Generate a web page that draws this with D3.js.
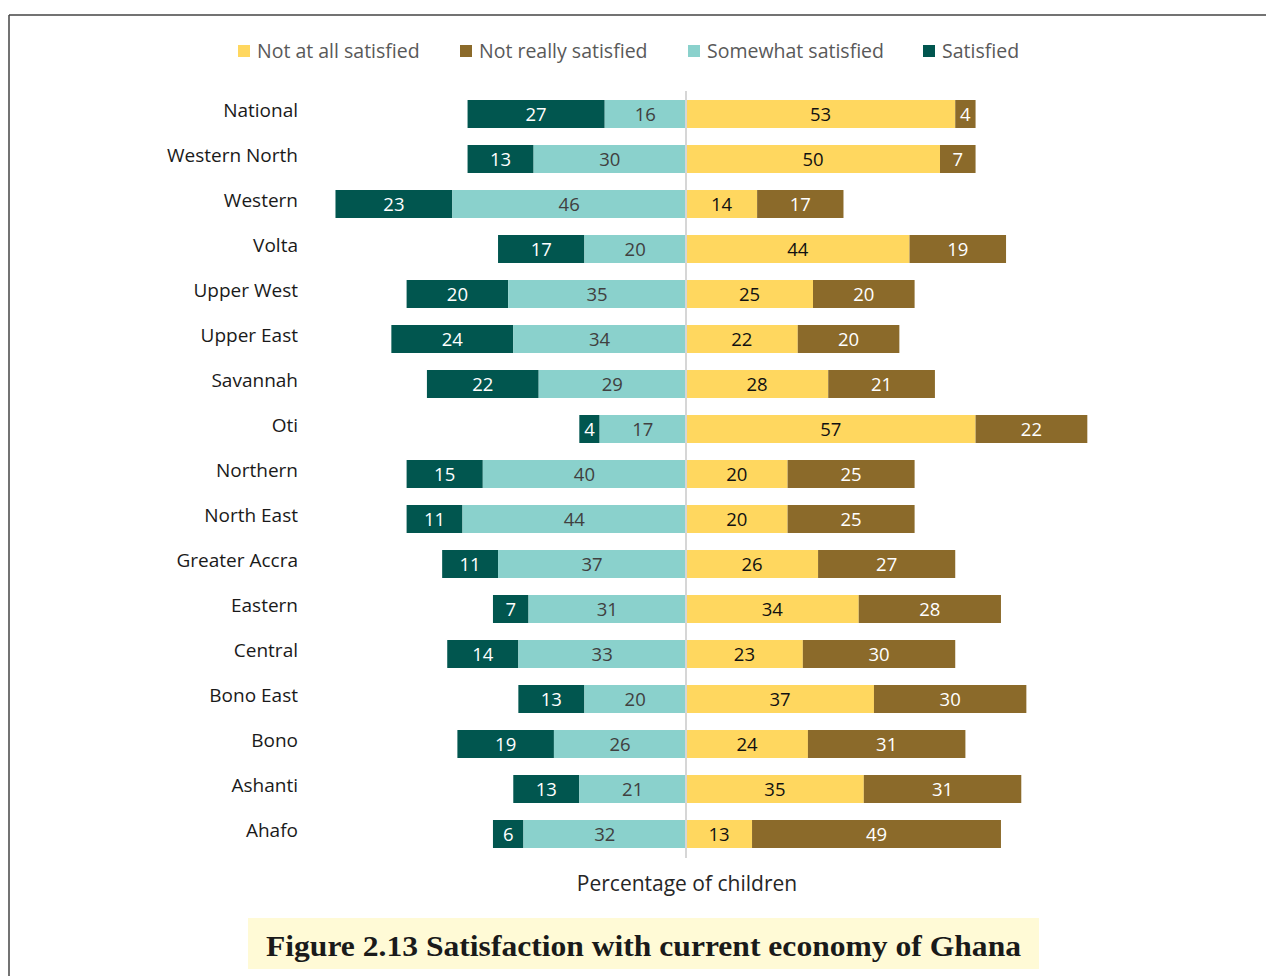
<!DOCTYPE html>
<html><head><meta charset="utf-8">
<script src="https://cdn.jsdelivr.net/npm/d3@7"></script>
<style>body{margin:0;background:#fff}svg{display:block}</style>
</head><body>
<svg id="c" width="1266" height="976"></svg>
<script>
const categories = ["National","Western North","Western","Volta","Upper West","Upper East","Savannah","Oti","Northern","North East","Greater Accra","Eastern","Central","Bono East","Bono","Ashanti","Ahafo"];
const satisfied      = [27,13,23,17,20,24,22,4,15,11,11,7,14,13,19,13,6];
const somewhat       = [16,30,46,20,35,34,29,17,40,44,37,31,33,20,26,21,32];
const notAtAll       = [53,50,14,44,25,22,28,57,20,20,26,34,23,37,24,35,13];
const notReally      = [4,7,17,19,20,20,21,22,25,25,27,28,30,30,31,31,49];
const legendLabels = ["Not at all satisfied","Not really satisfied","Somewhat satisfied","Satisfied"];

const colors = {sat:"#01564f", some:"#8ad1cc", naa:"#ffd75f", nr:"#8b6a2a"};
const textCol = {sat:"#ffffff", some:"#404040", naa:"#111111", nr:"#ffffff"};
const font = "'Open Sans', sans-serif";

const svg = d3.select("#c");
// frame
svg.append("line").attr("x1",9).attr("x2",1266).attr("y1",15).attr("y2",15).attr("stroke","#444").attr("stroke-width",1.5);
svg.append("line").attr("x1",9).attr("x2",9).attr("y1",15).attr("y2",976).attr("stroke","#444").attr("stroke-width",1.5);

const x = d3.scaleLinear().domain([-69, 79]).range([686 - 69*5.08, 686 + 79*5.08]);
const y = d3.scaleBand().domain(categories).range([91.5, 856.5]).paddingInner(0.378).paddingOuter(0.189);

const rows = categories.map((c,i)=>({c, segs:[
  {k:"sat", x0:-(satisfied[i]+somewhat[i]), x1:-somewhat[i], v:satisfied[i]},
  {k:"some", x0:-somewhat[i], x1:0, v:somewhat[i]},
  {k:"naa", x0:0, x1:notAtAll[i], v:notAtAll[i]},
  {k:"nr", x0:notAtAll[i], x1:notAtAll[i]+notReally[i], v:notReally[i]}
]}));

const g = svg.append("g");
const rg = g.selectAll("g.row").data(rows).join("g").attr("transform",d=>`translate(0,${y(d.c)})`);
rg.selectAll("rect").data(d=>d.segs).join("rect")
  .attr("x",d=>x(d.x0)).attr("width",d=>x(d.x1)-x(d.x0))
  .attr("y",0).attr("height",y.bandwidth())
  .attr("fill",d=>colors[d.k]);
rg.selectAll("text").data(d=>d.segs).join("text")
  .attr("x",d=>(x(d.x0)+x(d.x1))/2).attr("y",y.bandwidth()/2).attr("dy","0.36em")
  .attr("text-anchor","middle").attr("font-family",font).attr("font-size",18.5)
  .attr("fill",d=>textCol[d.k]).text(d=>d.v);

// center line
svg.append("line").attr("x1",x(0)).attr("x2",x(0)).attr("y1",91).attr("y2",858).attr("stroke","#d6d6d6").attr("stroke-width",2);

// category labels
svg.append("g").selectAll("text").data(categories).join("text")
  .attr("x",298).attr("y",d=>y(d)+y.bandwidth()/2 - 4).attr("dy","0.36em")
  .attr("text-anchor","end").attr("font-family",font).attr("font-size",19).attr("fill","#1a1a1a").text(d=>d);

// legend
const legX = [238,460,688,923];
const legC = [colors.naa, colors.nr, colors.some, colors.sat];
const lg = svg.append("g").selectAll("g").data(legendLabels).join("g").attr("transform",(d,i)=>`translate(${legX[i]},51)`);
lg.append("rect").attr("x",0).attr("y",-6).attr("width",12).attr("height",12).attr("fill",(d,i)=>legC[i]);
lg.append("text").attr("x",19).attr("y",0).attr("dy","0.36em").attr("font-family",font).attr("font-size",19.5).attr("fill","#595959").text(d=>d);

// axis title
svg.append("text").attr("x",687).attr("y",883).attr("dy","0.36em").attr("text-anchor","middle")
  .attr("font-family",font).attr("font-size",21).attr("fill","#262626").text("Percentage of children");

// caption
svg.append("rect").attr("x",248).attr("y",918).attr("width",791).attr("height",51).attr("fill","#fffad6");
svg.append("text").attr("x",266).attr("y",945).attr("dy","0.36em")
  .attr("font-family","'Liberation Serif','DejaVu Serif',serif").attr("font-weight","bold").attr("font-size",30)
  .attr("textLength",755).attr("lengthAdjust","spacingAndGlyphs")
  .attr("fill","#1a1a1a").text("Figure 2.13 Satisfaction with current economy of Ghana");
</script>
</body></html>
